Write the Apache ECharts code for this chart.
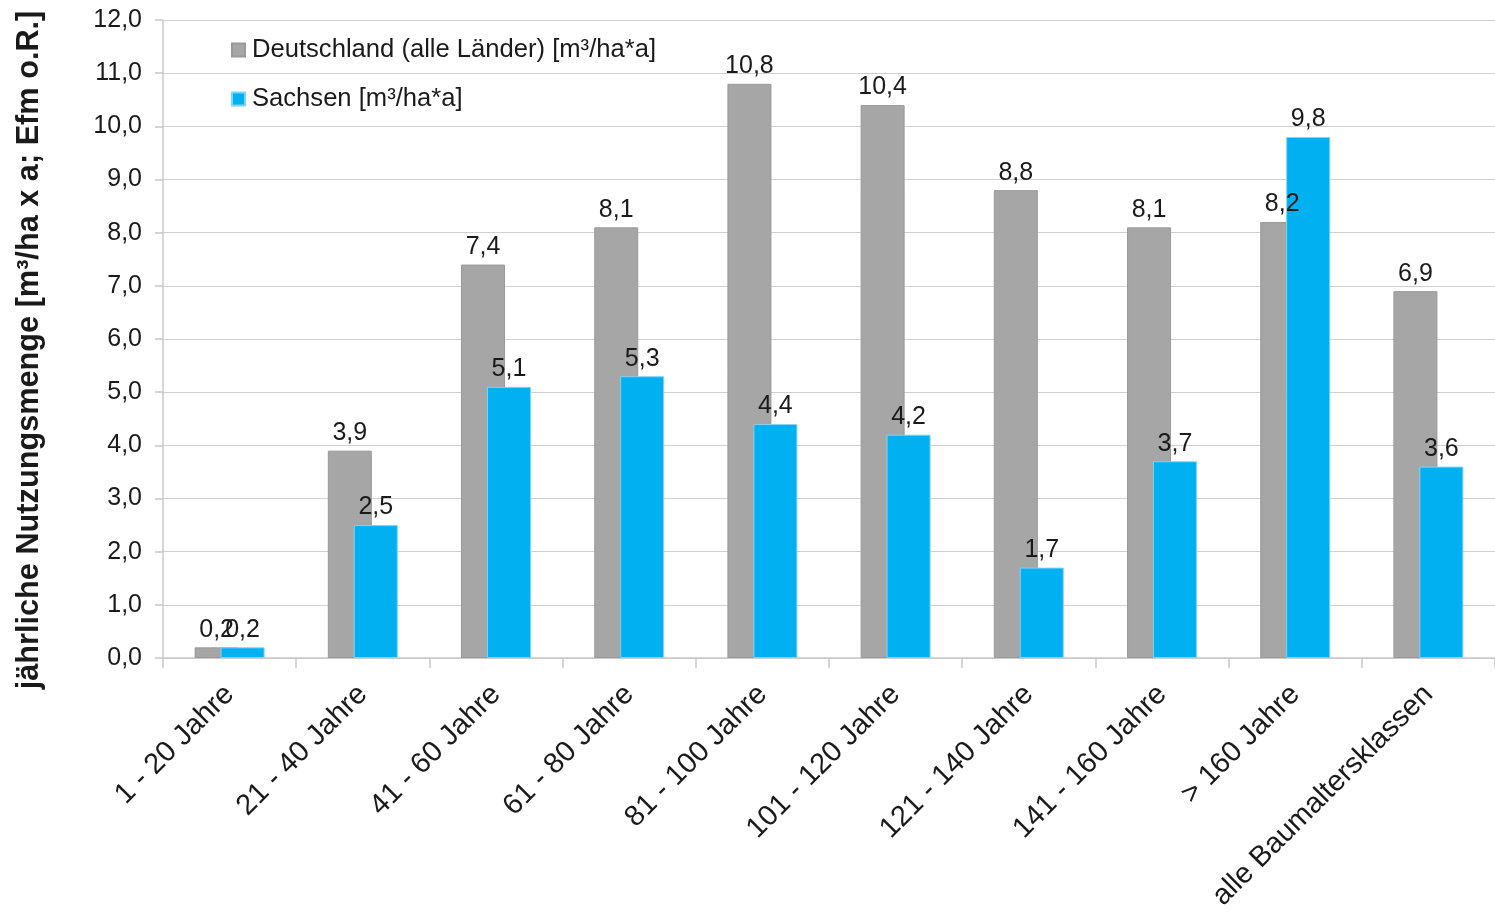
<!DOCTYPE html>
<html><head><meta charset="utf-8">
<script src="https://cdn.jsdelivr.net/npm/echarts@6/dist/echarts.min.js"></script>
<style>html,body{margin:0;padding:0;background:#fff}#c{width:1495px;height:918px}</style>
</head><body><div id="c"></div>
<script>
const categories = ['1 - 20 Jahre','21 - 40 Jahre','41 - 60 Jahre','61 - 80 Jahre','81 - 100 Jahre','101 - 120 Jahre','121 - 140 Jahre','141 - 160 Jahre','> 160 Jahre','alle Baumaltersklassen'];
const deutschland = [0.2,3.9,7.4,8.1,10.8,10.4,8.8,8.1,8.2,6.9];
const sachsen = [0.2,2.5,5.1,5.3,4.4,4.2,1.7,3.7,9.8,3.6];
const seriesNames = ['Deutschland (alle Länder) [m³/ha*a]','Sachsen [m³/ha*a]'];
const yTitle = 'jährliche Nutzungsmenge [m³/ha x a; Efm o.R.]';

const font = 'Liberation Sans, Arial, sans-serif';
const fmt = v => v.toFixed(1).replace('.', ',');
const chart = echarts.init(document.getElementById('c'), null, {renderer:'canvas'});
chart.setOption({
  animation:false,
  backgroundColor:'#fff',
  textStyle:{fontFamily:font},
  grid:{left:163,right:-12,top:20,bottom:260,containLabel:false},
  legend:{
    orient:'vertical', left:226, top:32, itemWidth:13, itemHeight:13, itemGap:23,
    icon:'rect',
    textStyle:{fontFamily:font,fontSize:25.6,color:'#1a1a1a',padding:[0,0,0,2]},
    data:seriesNames
  },
  xAxis:{
    type:'category', data:categories,
    axisLine:{show:true,lineStyle:{color:'#c8c8c8',width:1.5}},
    axisTick:{show:true,length:10,lineStyle:{color:'#c8c8c8',width:1.5}},
    axisLabel:{rotate:45,fontSize:29,color:'#1a1a1a',fontFamily:font,margin:32,interval:0}
  },
  yAxis:{
    type:'value', min:0, max:12, interval:1,
    name:yTitle, nameLocation:'middle', nameGap:118, nameRotate:90,
    nameTextStyle:{fontFamily:font,fontSize:30.7,fontWeight:'bold',color:'#1a1a1a',padding:[0,22,0,0]},
    axisLine:{show:true,lineStyle:{color:'#c8c8c8',width:1.5}},
    axisTick:{show:true,length:8,lineStyle:{color:'#c8c8c8',width:1.5}},
    splitLine:{show:true,lineStyle:{color:'#d0d0d0',width:1.2}},
    axisLabel:{formatter:v=>fmt(v),fontSize:25,color:'#1a1a1a',fontFamily:font,margin:21}
  },
  series:[
    {name:seriesNames[0],type:'bar',data:deutschland,barWidth:44,barGap:'-41%',
     itemStyle:{color:'#a6a6a6',borderColor:'#999',borderWidth:1},
     label:{show:true,position:'top',distance:5,formatter:p=>fmt(p.value),fontSize:25,color:'#1a1a1a',fontFamily:font}},
    {name:seriesNames[1],type:'bar',data:sachsen,barWidth:44,barGap:'-41%',
     itemStyle:{color:'#00b0f0',borderColor:'#7fd3f5',borderWidth:1},
     label:{show:true,position:'top',distance:5,formatter:p=>fmt(p.value),fontSize:25,color:'#1a1a1a',fontFamily:font}}
  ]
});
</script></body></html>
